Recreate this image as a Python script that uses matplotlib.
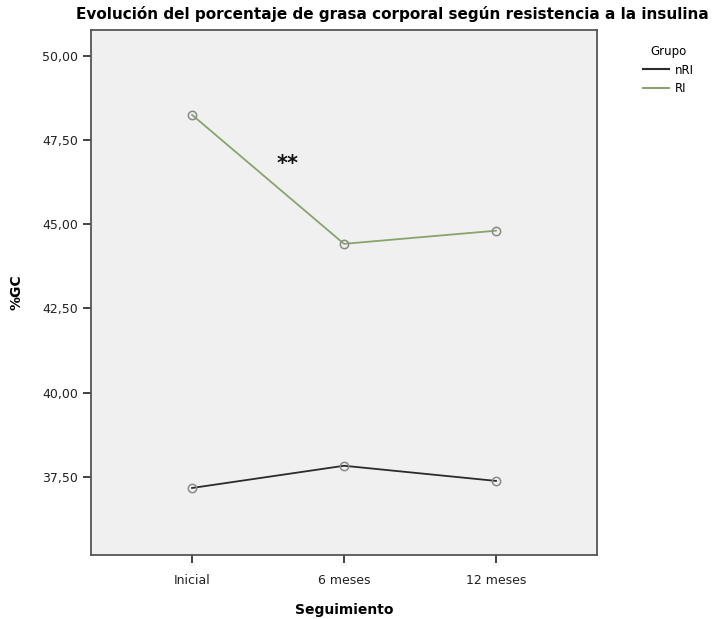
import matplotlib
matplotlib.use("Agg")
import matplotlib.pyplot as plt
from matplotlib.lines import Line2D
from matplotlib.ticker import FuncFormatter

# ---- data --------------------------------------------------------------------
seguimiento = ["Inicial", "6 meses", "12 meses"]
grasa_nri = [37.17, 37.83, 37.38]
grasa_ri = [48.25, 44.42, 44.81]
y_ticks = [37.5, 40.0, 42.5, 45.0, 47.5, 50.0]

c_nri = "#2b2b2b"
c_ri = "#87a56b"

fig = plt.figure(figsize=(7.21, 6.19), dpi=100)
ax = fig.add_axes([91 / 721, 1 - 555 / 619, (597 - 91) / 721, (555 - 30) / 619])
ax.set_facecolor("#f0f0f0")

x = range(len(seguimiento))
ax.plot(x, grasa_nri, color=c_nri, lw=1.3, marker="o", ms=6,
        mfc="none", mec="#8a8a8a", mew=1.1)
ax.plot(x, grasa_ri, color=c_ri, lw=1.3, marker="o", ms=6,
        mfc="none", mec="#8a8a8a", mew=1.1)

# significance mark between baseline and 6 months
ax.text(0.63, 46.8, "**", fontsize=15, fontweight="bold",
        ha="center", va="center", color="#111111")

ax.set_xlim(-0.665, 2.665)
ax.set_ylim(35.18, 50.77)
ax.set_xticks(list(x))
ax.set_xticklabels(seguimiento)
ax.set_yticks(y_ticks)
ax.yaxis.set_major_formatter(FuncFormatter(lambda v, p: f"{v:.2f}".replace(".", ",")))
ax.tick_params(axis="both", labelsize=9, colors="#222222", length=6, width=1.2)
ax.tick_params(axis="x", pad=8)

for s in ax.spines.values():
    s.set_color("#555555")
    s.set_linewidth(1.3)

ax.set_xlabel("Seguimiento", fontsize=10, fontweight="bold", labelpad=11)
ax.set_ylabel("%GC", fontsize=10, fontweight="bold", labelpad=13)
fig.text(392 / 721, 1 - 14 / 619,
         "Evolución del porcentaje de grasa corporal según resistencia a la insulina",
         ha="center", va="center", fontsize=11, fontweight="bold")

handles = [Line2D([], [], color=c_nri, lw=1.5), Line2D([], [], color=c_ri, lw=1.5)]
leg = fig.legend(handles, ["nRI", "RI"], title="Grupo", loc="upper left",
                 bbox_to_anchor=(632 / 721, 1 - 34 / 619), frameon=False,
                 fontsize=8.5, title_fontsize=8.5, handlelength=2.2,
                 handletextpad=0.5, labelspacing=0.5)
leg._legend_box.align = "center"

fig.savefig("out.png", dpi=100)
